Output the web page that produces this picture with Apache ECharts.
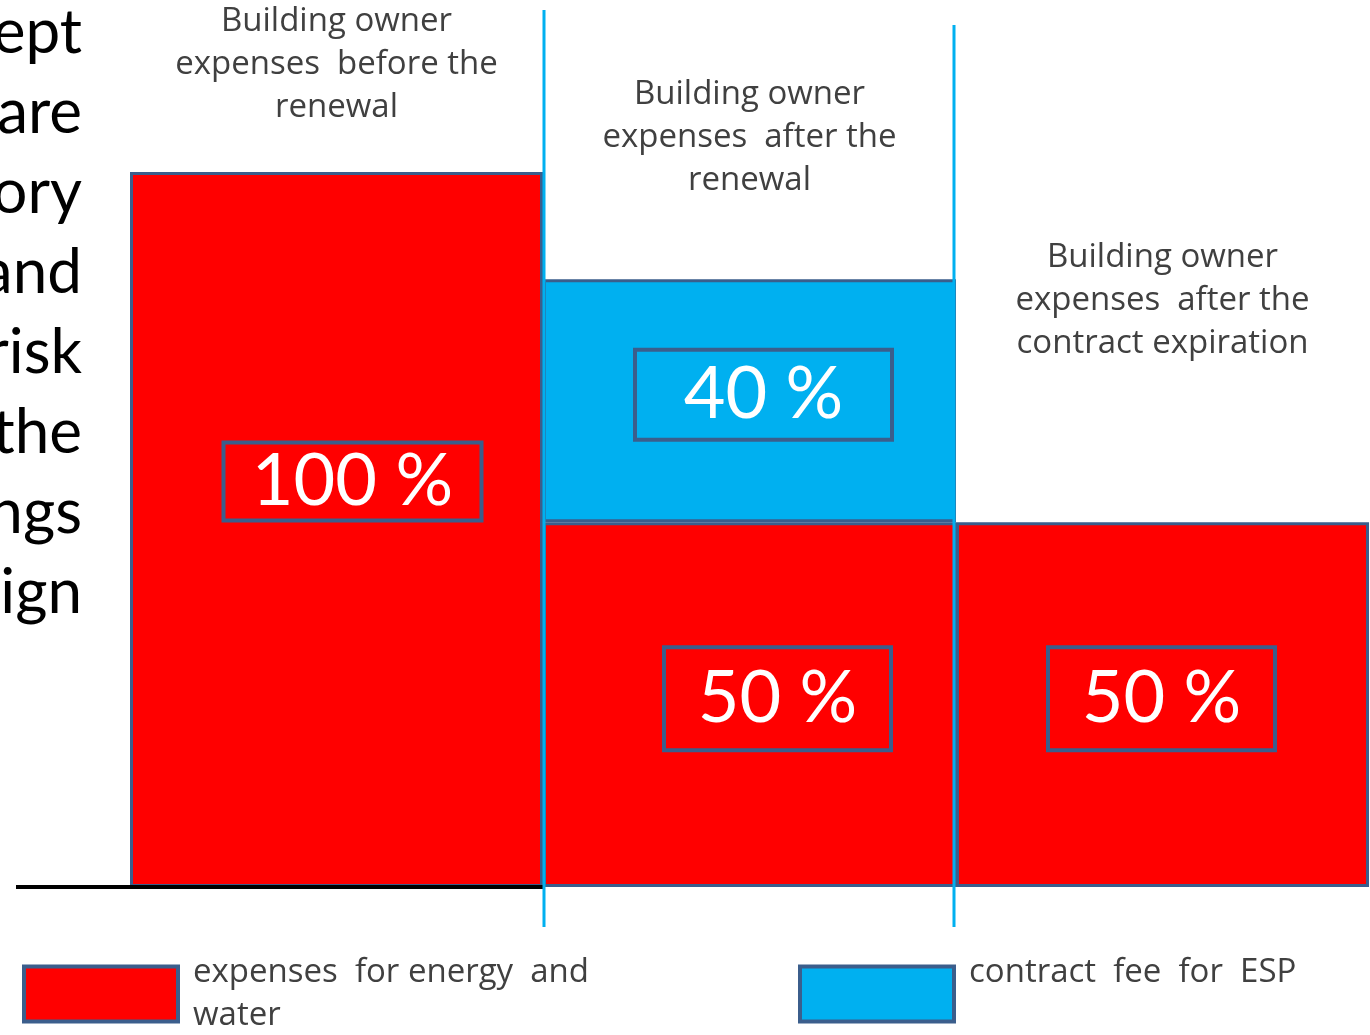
<!DOCTYPE html>
<html><head><meta charset="utf-8">
<script src="https://cdn.jsdelivr.net/npm/echarts@6/dist/echarts.min.js"></script>
<style>html,body{margin:0;padding:0;background:#fff}#c{width:1370px;height:1035px}</style>
</head><body><div id="c"></div>
<script>
// ---- data ----
var categories = ['before', 'after', 'expiration'];
var energyValues = [100, 51, 51];      // red bar heights (as drawn)
var feeValues = ['-', 34, '-'];        // blue bar heights (as drawn)
var energyLabels = ['100 %', '50 %', '50 %'];
var feeLabels = ['', '40 %', ''];
var topTexts = [
  'Building owner\nexpenses  before the\nrenewal',
  'Building owner\nexpenses  after the\nrenewal',
  'Building owner\nexpenses  after the\ncontract expiration'
];
var sideFragments = ['ept', 'are', 'ory', 'and', 'risk', 'the', 'ngs', 'ign'];
var seriesNames = ['expenses for energy and water', 'contract fee for  ESP'];
var legendTexts = ['expenses  for energy  and\nwater', 'contract  fee  for  ESP\n '];

// ---- styles ----
var RED = '#FF0000', BLUE = '#00B0F0', EDGE = '#3B5E8C', SEP = '#00B0F0';
var FONT = 'Open Sans';
var energyLabelStyle = [
  {offset: [16, -48], width: 258, height: 78},
  {offset: [28, -6], width: 227, height: 103},
  {offset: [-1, -6], width: 227, height: 103}
];
var feeLabelStyle = [null, {offset: [14, -6], width: 257, height: 90}, null];
var topTextY = [0, 73, 236];

function lbl(text, st) {
  if (!text) return {show: false};
  return {
    show: true, position: 'inside', formatter: text, offset: st.offset,
    width: st.width, height: st.height, align: 'center', verticalAlign: 'middle',
    color: '#fff', fontFamily: 'Lato', fontSize: 72, lineHeight: st.height,
    borderColor: EDGE, borderWidth: 4, padding: 0
  };
}

function legendCfg(i, left) {
  return {left: left, top: 946, itemWidth: 154, itemHeight: 55, icon: 'rect', data: [seriesNames[i]],
    formatter: function () { return legendTexts[i]; },
    textStyle: {fontFamily: FONT, fontSize: 33, color: '#404040', lineHeight: 43, padding: [0, 0, 0, 10]},
    itemStyle: {borderColor: EDGE, borderWidth: 4}};
}

var chart = echarts.init(document.getElementById('c'), null, {renderer: 'canvas'});
var option = {
  animation: false,
  backgroundColor: '#fff',
  grid: {left: 130, right: 1, top: 172, bottom: 148},
  xAxis: {type: 'category', data: categories, show: false, boundaryGap: true},
  yAxis: {type: 'value', min: 0, max: 100, show: false},
  legend: [legendCfg(0, 17), legendCfg(1, 793)],
  series: [
    {name: seriesNames[0], type: 'bar', stack: 's', barWidth: '100%', barCategoryGap: 0,
     itemStyle: {color: RED, borderColor: EDGE, borderWidth: 3},
     data: energyValues.map(function (v, i) { return {value: v, label: lbl(energyLabels[i], energyLabelStyle[i])}; })},
    {name: seriesNames[1], type: 'bar', stack: 's', barWidth: '100%', barCategoryGap: 0,
     itemStyle: {color: BLUE, borderColor: EDGE, borderWidth: 3},
     data: feeValues.map(function (v, i) { return {value: v, label: lbl(feeLabels[i], feeLabelStyle[i] || {})}; })}
  ]
};
chart.setOption(option);

// decorations positioned from the axis scale
var centers = categories.map(function (c) { return chart.convertToPixel({xAxisIndex: 0}, c); });
var step = centers[1] - centers[0];
var yBase = chart.convertToPixel({yAxisIndex: 0}, 0);
var g = [];
// baseline
g.push({type: 'line', shape: {x1: 16, y1: yBase, x2: centers[0] + step / 2 + 2, y2: yBase},
        style: {stroke: '#000', lineWidth: 4}, z: 10});
// separators
var sepTops = [10, 25];
var sepShift = [1, -2];
[0, 1].forEach(function (i) {
  var x = Math.round((centers[i] + centers[i + 1]) / 2) + sepShift[i];
  g.push({type: 'line', shape: {x1: x, y1: sepTops[i], x2: x, y2: yBase + 40},
          style: {stroke: SEP, lineWidth: 3}, z: 20});
});
// top texts
topTexts.forEach(function (t, i) {
  g.push({type: 'text', x: centers[i], y: topTextY[i], z: 30,
          style: {text: t, fontFamily: FONT, fontSize: 33, lineHeight: 43, fill: '#404040',
                  align: 'center', verticalAlign: 'top'}});
});
// cropped slide text fragments
sideFragments.forEach(function (t, i) {
  g.push({type: 'text', x: 82, y: 33 + i * 80, z: 30,
          style: {text: t, fontFamily: 'Lato', fontSize: 62, fill: '#000',
                  align: 'right', verticalAlign: 'middle'}});
});
chart.setOption({graphic: g});
</script></body></html>
